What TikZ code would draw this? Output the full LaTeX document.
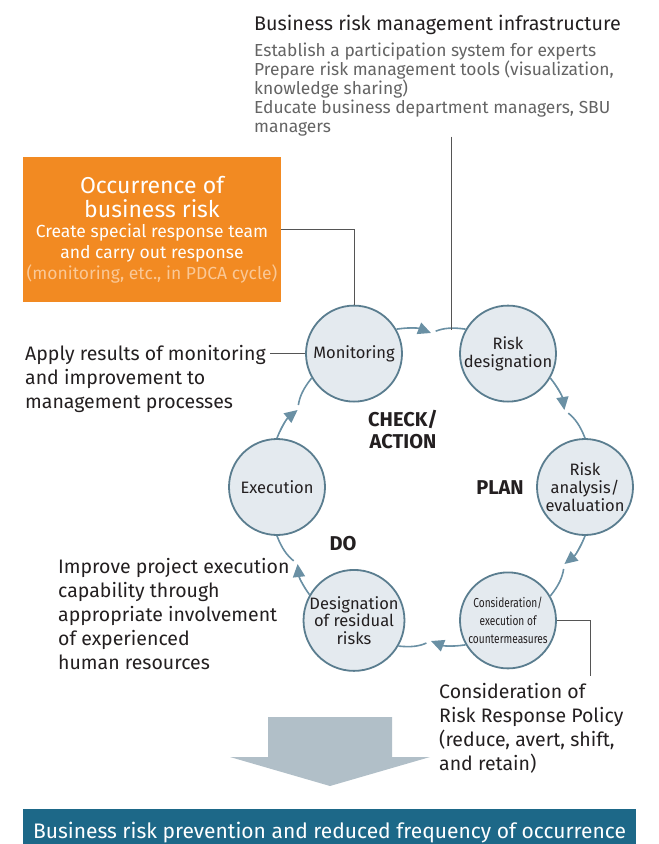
\documentclass[tikz,border=0pt]{standalone}
\usepackage{fontspec}
\setmainfont{Fira Sans}
\newfontfamily\narrowsans[FakeStretch=0.78]{Fira Sans}
\usetikzlibrary{arrows.meta, positioning, calc}
\definecolor{riskorange}{RGB}{242,138,34}
\definecolor{occlight}{RGB}{250,200,150}
\definecolor{stagefill}{RGB}{228,234,239}
\definecolor{stageline}{RGB}{90,125,143}
\definecolor{cyclecol}{RGB}{106,144,164}
\definecolor{bigarrow}{RGB}{177,191,200}
\definecolor{resultbar}{RGB}{29,104,136}
\definecolor{inktext}{RGB}{35,31,32}
\definecolor{subtext}{RGB}{100,100,100}
\definecolor{leadcol}{RGB}{85,85,85}
\tikzset{
  stage/.style={circle, draw=stageline, fill=stagefill, line width=1.8pt,
    minimum size=96pt, inner sep=0pt, align=center, text=inktext,
    font=\fontsize{16.5}{18}\selectfont},
  phase/.style={align=center, text=inktext, inner sep=0pt,
    font=\bfseries\fontsize{20}{22}\selectfont},
  cyclearrow/.style={-{Triangle[length=13pt,width=12pt]}, line width=1.6pt,
    draw=cyclecol, fill=cyclecol},
  cycleline/.style={line width=1.6pt, draw=cyclecol, shorten <=5pt},
  leader/.style={draw=leadcol, line width=0.9pt},
  note/.style={align=left, text=inktext, inner sep=0pt,
    font=\fontsize{19.5}{24}\selectfont},
  occbox/.style={rectangle, fill=riskorange, text=white, align=center,
    minimum width=258pt, minimum height=145pt, inner sep=0pt,
    font=\fontsize{17.5}{21}\selectfont},
  resultbox/.style={rectangle, fill=resultbar, text=white,
    minimum width=613pt, minimum height=47pt, inner sep=0pt,
    font=\fontsize{21}{22}\selectfont},
}

\begin{document}
\begin{tikzpicture}[x=1pt, y=-1pt]
  \useasboundingbox (0,0) rectangle (659,844);

  % infrastructure note
  \node[note, anchor=north west, font=\fontsize{19.75}{22}\selectfont] (infra) at (254,15)
    {Business risk management infrastructure};
  \node[note, anchor=north west, text=subtext, font=\fontsize{17.4}{19}\selectfont] (infrasub) at (254,43)
    {Establish a participation system for experts\\
     Prepare risk management tools (visualization,\\
     knowledge sharing)\\
     Educate business department managers, SBU\\
     managers};

  % occurrence box
  \node[occbox] (occ) at (152,229.5)
    {{\fontsize{23}{23}\selectfont Occurrence of}\\[3pt]
     {\fontsize{23}{23}\selectfont business risk}\\[-1pt]
     Create special response team\\
     and carry out response\\
     {\color{occlight}(monitoring, etc., in PDCA cycle)}};

  % cycle
  \node[stage] (mon) at (354,353.6) {Monitoring};
  \node[stage] (rd)  at (508,353.6) {Risk\\designation};
  \node[stage] (ra)  at (585,487)   {Risk\\analysis/\\evaluation};
  \node[stage, font=\narrowsans\fontsize{13}{18}\selectfont] (cm) at (508,620.4)
    {Consideration/\\execution of\\countermeasures};
  \node[stage, font=\fontsize{16.5}{17.5}\selectfont] (rr) at (354,620.4)
    {Designation\\of residual\\risks};
  \node[stage] (ex)  at (277,487)   {Execution};

  \coordinate (g1) at (431,333);
  \coordinate (g2) at (564.4,410);
  \coordinate (g3) at (564.4,564);
  \coordinate (g4) at (431,641);
  \coordinate (g5) at (297.6,564);
  \coordinate (g6) at (297.6,410);

  \draw[cyclearrow] (mon) to[bend left=15] (g1);
  \draw[cycleline]  (g1)  to[bend left=15] (rd);
  \draw[cyclearrow] (rd)  to[bend left=15] (g2);
  \draw[cycleline]  (g2)  to[bend left=15] (ra);
  \draw[cyclearrow] (ra)  to[bend left=15] (g3);
  \draw[cycleline]  (g3)  to[bend left=15] (cm);
  \draw[cyclearrow] (cm)  to[bend left=15] (g4);
  \draw[cycleline]  (g4)  to[bend left=15] (rr);
  \draw[cyclearrow] (rr)  to[bend left=15] (g5);
  \draw[cycleline]  (g5)  to[bend left=15] (ex);
  \draw[cyclearrow] (ex)  to[bend left=15] (g6);
  \draw[cycleline]  (g6)  to[bend left=15] (mon);

  \node[phase] (check) at (403,430) {CHECK/\\ACTION};
  \node[phase] (plan)  at (500,488) {PLAN};
  \node[phase] (do)    at (343,544) {DO};

  % side notes
  \node[note, anchor=north west] (apply) at (25,345)
    {Apply results of monitoring\\and improvement to\\management processes};
  \node[note, anchor=north west] (improve) at (58,558)
    {Improve project execution\\capability through\\appropriate involvement\\of experienced\\human resources};
  \node[note, anchor=north west] (policy) at (439,683)
    {Consideration of\\Risk Response Policy\\(reduce, avert, shift,\\and retain)};

  % leaders
  \coordinate (infratip) at (451,330);
  \coordinate (polend) at (590,676);
  \draw[leader] (infrasub.south -| infratip) -- (infratip);
  \draw[leader] (occ.east) -| (mon.north);
  \draw[leader, shorten >=4pt] (mon.west) -- (mon.west -| apply.east);
  \draw[leader] (cm.east) -| (polend);

  % result
  \fill[bigarrow] (268,717) -- (392,717) -- (392,757) -- (430,757)
    -- (330,786) -- (230,757) -- (268,757) -- cycle;
  \node[resultbox] (result) at (329.5,832.5)
    {Business risk prevention and reduced frequency of occurrence};
\end{tikzpicture}
\end{document}
